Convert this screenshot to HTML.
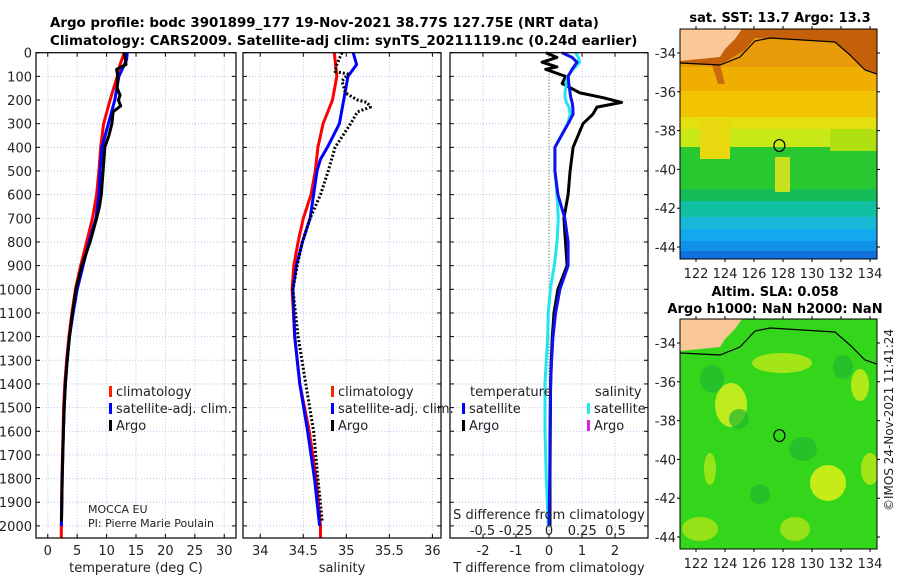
<!DOCTYPE html>
<html><head><meta charset="utf-8"><style>
body{margin:0;background:#fff;}
svg{display:block;font-family:"DejaVu Sans","Liberation Sans",sans-serif;}
</style></head><body>
<svg id="fig" width="900" height="580" viewBox="0 0 900 580" xmlns="http://www.w3.org/2000/svg">
<text x="50" y="27" font-size="13.4" font-weight="bold">Argo profile: bodc 3901899_177 19-Nov-2021 38.77S 127.75E (NRT data)</text>
<text x="50" y="45" font-size="13.4" font-weight="bold">Climatology: CARS2009. Satellite-adj clim: synTS_20211119.nc (0.24d earlier)</text>
<g id="maps"></g>
<g id="panels"></g>
<text x="20" y="0" font-size="12" transform="translate(893,440) rotate(-90)" text-anchor="middle" fill="#222">©IMOS 24-Nov-2021 11:41:24</text>
</svg>
<script>
// ---- profile data ----
const depthClimT = [0,50,100,200,300,400,500,600,700,800,900,1000,1100,1200,1300,1400,1500,1600,1700,1800,1900,2000,2050];
const tempClim   = [13.0,12.3,11.8,10.6,9.5,9.0,8.7,8.3,7.6,6.6,5.6,4.7,4.1,3.6,3.2,2.9,2.7,2.6,2.5,2.4,2.35,2.3,2.3];
const depthSatT  = [0,30,100,200,300,400,500,600,700,800,900,1000,1100,1200,1300,1400,1500,1600,1700,1800,1900,2000];
const tempSat    = [13.5,13.4,12.1,11.4,10.3,9.2,8.9,8.7,8.2,7.0,6.0,5.0,4.3,3.7,3.3,3.0,2.8,2.65,2.55,2.45,2.38,2.32];
const depthArgoT = [0,30,50,70,100,150,180,200,225,250,300,350,400,500,600,650,700,800,900,1000,1100,1200,1300,1400,1500,1600,1700,1800,1900,1980];
const tempArgo   = [13.0,13.2,13.3,11.7,11.9,11.8,12.3,12.0,12.4,11.1,10.9,10.4,9.7,9.4,9.1,8.8,8.3,7.2,5.8,4.8,4.2,3.7,3.3,3.0,2.8,2.65,2.55,2.45,2.38,2.33];
const depthClimS = [0,100,200,300,400,500,600,700,800,900,1000,1200,1400,1600,1800,2000,2050];
const salClim    = [34.86,34.89,34.84,34.73,34.67,34.64,34.59,34.50,34.44,34.39,34.37,34.40,34.46,34.57,34.65,34.70,34.70];
const depthSatS  = [0,50,100,200,300,400,450,500,600,700,800,900,1000,1200,1400,1600,1800,2000];
const salSat     = [35.08,35.12,35.02,34.97,34.92,34.78,34.70,34.66,34.62,34.58,34.49,34.42,34.38,34.40,34.46,34.55,34.63,34.69];
const depthArgoS = [0,50,80,90,120,170,200,210,230,250,300,400,500,600,700,800,900,1000,1200,1400,1600,1800,1980];
const salArgo    = [34.95,34.89,34.87,35.02,34.95,34.99,35.13,35.24,35.28,35.13,35.05,34.87,34.79,34.70,34.58,34.49,34.43,34.38,34.44,34.53,34.62,34.67,34.72];
const depthDiff  = [0,20,40,60,70,100,130,170,190,210,230,260,300,400,500,600,700,800,900,1000,1100,1200,1300,1400,1600,1800,2000];
const tDiffArgo  = [-0.09,0.24,-0.21,0.24,-0.1,0.5,0.4,0.94,1.64,2.2,1.45,1.33,1.03,0.73,0.64,0.58,0.45,0.5,0.55,0.27,0.15,0.1,0.07,0.05,0.04,0.03,0.03];
const tDiffSat   = [0.39,0.7,0.85,0.75,0.7,0.58,0.6,0.64,0.66,0.7,0.72,0.73,0.58,0.18,0.18,0.27,0.48,0.58,0.58,0.33,0.2,0.12,0.08,0.05,0.03,0.02,0.0];
const sDiffSat   = [0.2,0.22,0.23,0.2,0.18,0.14,0.13,0.12,0.12,0.13,0.15,0.16,0.14,0.045,0.045,0.06,0.07,0.06,0.04,0.01,-0.005,-0.01,-0.02,-0.03,-0.03,-0.02,-0.005];
const depthTicks = [0,100,200,300,400,500,600,700,800,900,1000,1100,1200,1300,1400,1500,1600,1700,1800,1900,2000];
const tempTicks  = [0,5,10,15,20,25,30];
const salTicks   = [34,34.5,35,35.5,36];
const tDiffTicks = [-2,-1,0,1,2];
const sDiffTicks = [-0.5,-0.25,0,0.25,0.5];
const latTicks   = [-34,-36,-38,-40,-42,-44];
const lonTicks   = [122,124,126,128,130,132,134];

const NS='http://www.w3.org/2000/svg';
function mk(tag, attrs, parent, text){
  const e=document.createElementNS(NS,tag);
  for(const k in attrs) e.setAttribute(k,attrs[k]);
  if(text!==undefined) e.textContent=text;
  parent.appendChild(e); return e;
}
const panels=document.getElementById('panels');
const TOP=52.7, PXM=0.2366, BOT=538;
const yD=d=>TOP+d*PXM;
const panelDefs=[
  {name:'temperature', x0:36, x1:236, lo:-2, hi:32},
  {name:'salinity', x0:243, x1:441, lo:33.8, hi:36.1},
  {name:'difference', x0:450, x1:648, lo:-3, hi:3}
];
const xs=panelDefs.map(p=>v=>p.x0+(v-p.lo)*(p.x1-p.x0)/(p.hi-p.lo));
const xSd=v=>549+v*133;

function grid(pi, ticks){
  const p=panelDefs[pi], g=mk('g',{},panels);
  
  
  ticks.forEach(t=>{const x=xs[pi](t);
    mk('line',{x1:x,x2:x,y1:TOP,y2:BOT,stroke:'#b9c3ea','stroke-width':1,'stroke-dasharray':'1,2'},g);
    mk('line',{x1:x,x2:x,y1:BOT,y2:BOT-4,stroke:'#000'},g);
    mk('line',{x1:x,x2:x,y1:TOP,y2:TOP+4,stroke:'#000'},g);});
  depthTicks.forEach(d=>{const y=yD(d);
    mk('line',{x1:p.x0,x2:p.x1,y1:y,y2:y,stroke:'#b9c3ea','stroke-width':1,'stroke-dasharray':'1,2'},g);
    mk('line',{x1:p.x0,x2:p.x0+4,y1:y,y2:y,stroke:'#000'},g);
    mk('line',{x1:p.x1,x2:p.x1-4,y1:y,y2:y,stroke:'#000'},g);});
}
function frame(pi){
  const p=panelDefs[pi];
  const r=mk('rect',{x:p.x0,y:TOP,width:p.x1-p.x0,height:BOT-TOP,fill:'none',stroke:'#000','stroke-width':1.2},panels);
  
  
}
function line(xf, depths, vals, color, name, dash, w){
  const pts=depths.map((d,i)=>xf(vals[i]).toFixed(1)+','+yD(d).toFixed(1)).join(' ');
  const a={points:pts,fill:'none',stroke:color,'stroke-width':w||3,'stroke-linejoin':'round'};
  if(dash) a['stroke-dasharray']=dash;
  const e=mk('polyline',a,panels);
  
  
}
function label(x,y,txt,name,anchor,size){
  const t=mk('text',{x:x,y:y,'font-size':size||13,'text-anchor':anchor||'middle',fill:'#222'},panels,txt);
  
  
  return t;
}
grid(0,tempTicks); grid(1,salTicks); grid(2,tDiffTicks);
depthTicks.forEach(d=>{ label(32,yD(d)+5,String(d),'depth-tick-label','end',13); });
line(xs[0],depthClimT,tempClim,'#ff0000','temp-climatology-line');
line(xs[0],depthSatT,tempSat,'#0000ff','temp-satellite-line');
line(xs[0],depthArgoT,tempArgo,'#000','temp-argo-line');
line(xs[1],depthClimS,salClim,'#ff0000','sal-climatology-line');
line(xs[1],depthSatS,salSat,'#0000ff','sal-satellite-line');
line(xs[1],depthArgoS,salArgo,'#000','sal-argo-line','2,2');
const z=mk('line',{x1:549,x2:549,y1:TOP,y2:BOT,stroke:'#3a6a3a','stroke-width':1,'stroke-dasharray':'1,2'},panels);


line(xs[2],depthDiff,tDiffArgo,'#000','tdiff-argo-line');
line(xSd,depthDiff,sDiffSat,'#22e5f0','sdiff-satellite-line');
line(xs[2],depthDiff,tDiffSat,'#1010f0','tdiff-satellite-line');
frame(0);frame(1);frame(2);
tempTicks.forEach(t=>label(xs[0](t),555,String(t),'temp-tick-label'));
salTicks.forEach(t=>label(xs[1](t),555,String(t),'sal-tick-label'));
tDiffTicks.forEach(t=>label(xs[2](t),555,String(t),'tdiff-tick-label'));
sDiffTicks.forEach(t=>label(xSd(t),535,String(t),'sdiff-tick-label'));
label(136,572,'temperature (deg C)','temperature-axis-title');
label(342,572,'salinity','salinity-axis-title');
label(549,572,'T difference from climatology','tdiff-axis-title');
label(549,519,'S difference from climatology','sdiff-axis-title');
label(88,513,'MOCCA EU','project-label','start',11);
label(88,527,'PI: Pierre Marie Poulain','pi-label','start',11);
function legend(x,y,color,txt,name){
  const m=mk('rect',{x:x,y:y-10,width:3,height:11,fill:color},panels);
  
  
  label(x+7,y,txt,name,'start',13);
}
legend(109,396,'#ff2000','climatology','legend-climatology');
legend(109,413,'#0000ff','satellite-adj. clim.','legend-satellite');
legend(109,430,'#000','Argo','legend-argo');
legend(331,396,'#ff2000','climatology','legend-sal-climatology');
legend(331,413,'#0000ff','satellite-adj. clim.','legend-sal-satellite');
legend(331,430,'#000','Argo','legend-sal-argo');
label(470,396,'temperature','legend-temperature-heading','start',13);
legend(462,413,'#0000ff','satellite','legend-tdiff-satellite');
legend(462,430,'#000','Argo','legend-tdiff-argo');
label(595,396,'salinity','legend-salinity-heading','start',13);
legend(587,413,'#22e5f0','satellite','legend-sdiff-satellite');
legend(587,430,'#e020e0','Argo','legend-sdiff-argo');

// ---- maps ----
const maps=document.getElementById('maps');
function map(top, kind){
  const X0=680,X1=877,Y0=top,Y1=top+230;
  const g=mk('g',{},maps);
  
  
  const off=top-29;
  const yL=lat=>53+off+(-34-lat)*19.4;
  const xL=lon=>783+(lon-128)*14.5;
  const cp='clip'+kind;
  const c=mk('clipPath',{id:cp},g); mk('rect',{x:X0,y:Y0,width:X1-X0,height:Y1-Y0},c);
  const inner=mk('g',{'clip-path':'url(#'+cp+')'},g);
  if(kind==='sst'){
    const bands=[[0,'#e89a08'],[38,'#f0ae00'],[62,'#f2c400'],[88,'#e4e010'],[100,'#c8e818'],[118,'#28c830'],[160,'#14bc58'],[172,'#10c0a0'],[188,'#18b8d8'],[200,'#14a8ee'],[212,'#1090e8'],[222,'#1070dc'],[230,'#1050d0']];
    bands.forEach((b,i)=>{const h=(i<bands.length-1?bands[i+1][0]:235)-b[0];mk('rect',{x:X0,y:Y0+b[0],width:X1-X0,height:h,fill:b[1]},inner);});
    mk('rect',{x:700,y:Y0+90,width:30,height:40,fill:'#e8d810'},inner);
    mk('rect',{x:775,y:Y0+128,width:15,height:35,fill:'#c8e020'},inner);
    mk('rect',{x:830,y:Y0+100,width:47,height:22,fill:'#b0e010'},inner);
    mk('path',{d:`M${X0},${Y0} L${X1},${Y0} L${X1},${Y0+45} L865,${Y0+41} L850,${Y0+26} L835,${Y0+13} L790,${Y0+10} L755,${Y0+9} L745,${Y0+21} L720,${Y0+36} L${X0},${Y0+34}Z`,fill:'#c4600a'},inner);
    mk('path',{d:`M${X0},${Y0+34} L720,${Y0+36} L725,${Y0+55} L718,${Y0+55} L712,${Y0+36}Z`,fill:'#cc6a10'},inner);
  } else {
    mk('rect',{x:X0,y:Y0,width:X1-X0,height:Y1-Y0,fill:'#34d61c'},inner);
    [[731,Y0+86,16,22,'#d8f020'],[782,Y0+44,30,10,'#b8e818'],[828,Y0+164,18,18,'#e0f018'],[860,Y0+66,9,16,'#c8ec18'],[870,Y0+150,9,16,'#b8e818'],[710,Y0+150,6,16,'#a8e818'],[700,Y0+210,18,12,'#a8e418'],[795,Y0+210,15,12,'#a8e418']].forEach(b=>mk('ellipse',{cx:b[0],cy:b[1],rx:b[2],ry:b[3],fill:b[4],opacity:0.85},inner));
    [[712,Y0+60,12,14],[739,Y0+100,10,10],[843,Y0+48,10,12],[760,Y0+175,10,10],[803,Y0+130,14,12]].forEach(b=>mk('ellipse',{cx:b[0],cy:b[1],rx:b[2],ry:b[3],fill:'#20b830',opacity:0.7},inner));
  }
  mk('path',{d:`M${X0},${Y0} L742,${Y0} L735,${Y0+10} L725,${Y0+20} L720,${Y0+28} L${X0},${Y0+32}Z`,fill:'#f9c896'},inner);
  const coast=mk('polyline',{points:`${X0},${Y0+34} 720,${Y0+36} 740,${Y0+28} 755,${Y0+12} 770,${Y0+9} 835,${Y0+13} 850,${Y0+26} 865,${Y0+41} ${X1},${Y0+45}`,fill:'none',stroke:'#000','stroke-width':1.2},inner);
  
  
  const dot=mk('ellipse',{cx:xL(127.75),cy:yL(-38.77),rx:5.5,ry:6,fill:'none',stroke:'#000','stroke-width':1.2},g);
  
  
  mk('rect',{x:X0,y:Y0,width:X1-X0,height:Y1-Y0,fill:'none',stroke:'#000','stroke-width':1},g);
  latTicks.forEach(l=>{const y=yL(l);
    mk('line',{x1:X0-3,x2:X0,y1:y,y2:y,stroke:'#000'},g);
    mk('line',{x1:X1,x2:X1+3,y1:y,y2:y,stroke:'#000'},g);
    const t=mk('text',{x:X0-4,y:y+5,'font-size':13,'text-anchor':'end',fill:'#222'},g,String(l));
    
    });
  lonTicks.forEach(l=>{const x=xL(l);
    mk('line',{x1:x,x2:x,y1:Y1,y2:Y1+3,stroke:'#000'},g);
    mk('line',{x1:x,x2:x,y1:Y0-3,y2:Y0,stroke:'#000'},g);
    const t=mk('text',{x:x,y:Y1+19,'font-size':13,'text-anchor':'middle',fill:'#222'},g,String(l));
    
    });
}
map(29,'sst'); map(319,'sla');
function mt(x,y,txt,name){const t=mk('text',{x:x,y:y,'font-size':13,'font-weight':'bold','text-anchor':'middle'},maps,txt);
  
  }
mt(780,22,'sat. SST: 13.7 Argo: 13.3','sst-map-title');
mt(775,296,'Altim. SLA: 0.058','sla-map-title');
mt(775,313,'Argo h1000: NaN h2000: NaN','sla-map-subtitle');
</script>
</body></html>
